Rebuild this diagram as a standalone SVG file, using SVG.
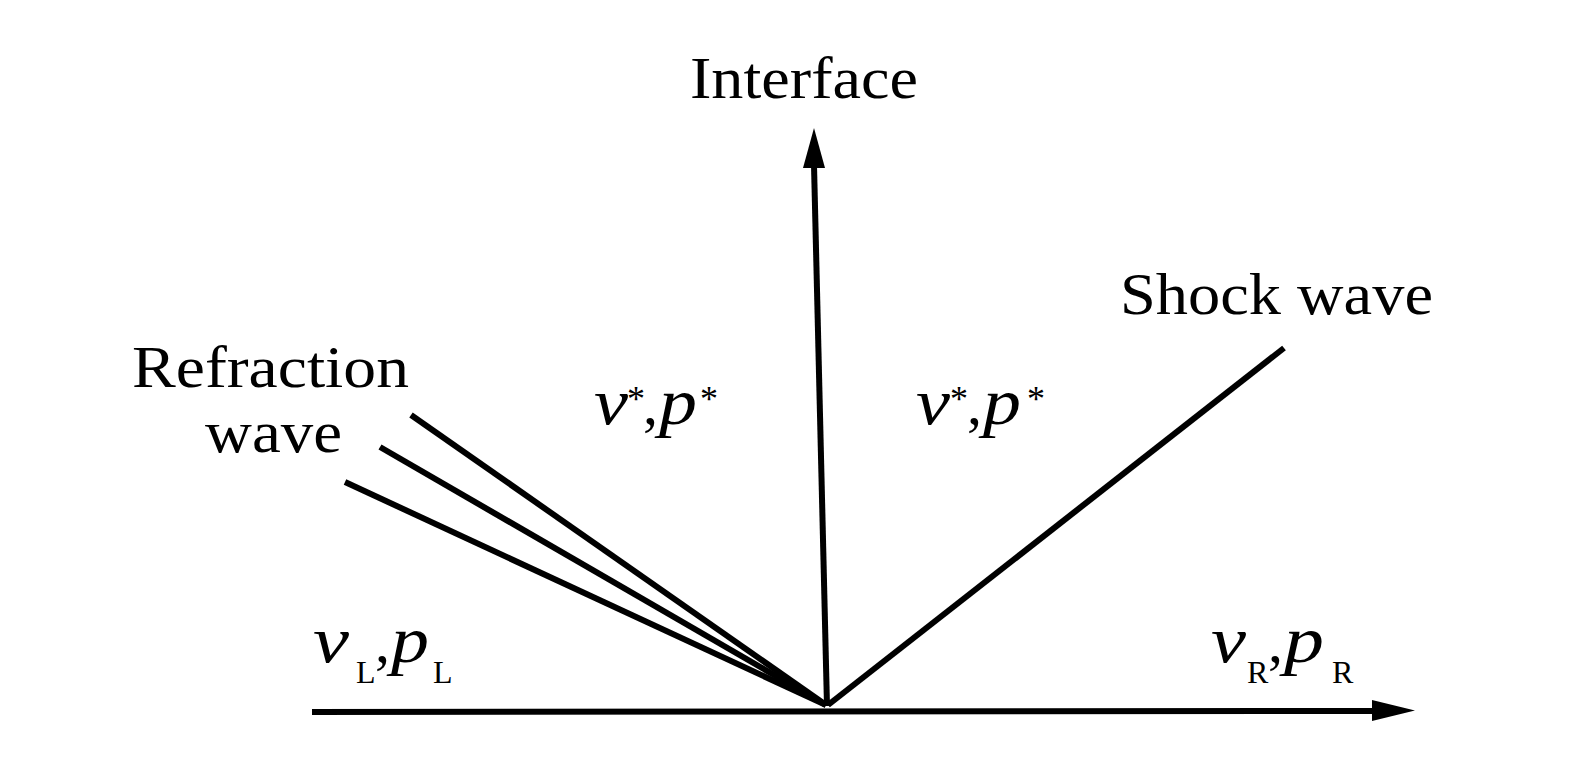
<svg xmlns="http://www.w3.org/2000/svg" width="1573" height="780" viewBox="0 0 1573 780">
<style>
.ln{stroke:#000;stroke-width:6;fill:none;stroke-linecap:butt}
.lbl{font-family:"Liberation Serif","Times New Roman",serif;font-size:60px;fill:#000}
.m{font-family:"Liberation Serif","Times New Roman",serif;font-style:italic;font-size:66px;fill:#000}
.c{font-family:"Liberation Serif","Times New Roman",serif;font-size:60px;fill:#000}
.sub{font-family:"Liberation Serif","Times New Roman",serif;font-size:32px;fill:#000}
.sup{font-family:"Liberation Serif","Times New Roman",serif;font-size:36px;fill:#000}
</style>
<rect width="1573" height="780" fill="#fff"/>
<g id="connectors">
<line class="ln" x1="312" y1="712" x2="1380" y2="711"/>
<polygon points="1372,700 1415,710.5 1372,721" fill="#000"/>
<line class="ln" x1="827" y1="706" x2="814" y2="165"/>
<polygon points="803,168 814,128 825,168" fill="#000"/>
<line class="ln" x1="826" y1="705" x2="411" y2="415"/>
<line class="ln" x1="826" y1="705" x2="380" y2="447"/>
<line class="ln" x1="826" y1="705" x2="345" y2="482"/>
<line class="ln" x1="828" y1="705" x2="1284" y2="348"/>
</g>
<g id="interface-label"><text class="lbl" x="690" y="98" textLength="228" lengthAdjust="spacingAndGlyphs">Interface</text></g>
<g id="shock-label"><text class="lbl" x="1120" y="314" textLength="313" lengthAdjust="spacingAndGlyphs">Shock wave</text></g>
<g id="refraction-label">
<text class="lbl" x="132" y="387" textLength="277" lengthAdjust="spacingAndGlyphs">Refraction</text>
<text class="lbl" x="205" y="452" textLength="137" lengthAdjust="spacingAndGlyphs">wave</text>
</g>
<g id="state-star-left">
<text class="m" x="594" y="424" textLength="34" lengthAdjust="spacingAndGlyphs">v</text>
<text class="sup" x="627" y="411">*</text>
<text class="c" x="643" y="424">,</text>
<text class="m" x="659" y="424" textLength="38" lengthAdjust="spacingAndGlyphs">p</text>
<text class="sup" x="700" y="411">*</text>
</g>
<g id="state-star-right">
<text class="m" x="916" y="424" textLength="34" lengthAdjust="spacingAndGlyphs">v</text>
<text class="sup" x="950" y="411">*</text>
<text class="c" x="967" y="424">,</text>
<text class="m" x="983" y="424" textLength="38" lengthAdjust="spacingAndGlyphs">p</text>
<text class="sup" x="1027" y="411">*</text>
</g>
<g id="state-left">
<text class="m" x="313" y="662" textLength="36" lengthAdjust="spacingAndGlyphs">v</text>
<text class="sub" x="356" y="683">L</text>
<text class="c" x="375" y="662">,</text>
<text class="m" x="391" y="662" textLength="38" lengthAdjust="spacingAndGlyphs">p</text>
<text class="sub" x="433" y="683">L</text>
</g>
<g id="state-right">
<text class="m" x="1211" y="662" textLength="35" lengthAdjust="spacingAndGlyphs">v</text>
<text class="sub" x="1247" y="683">R</text>
<text class="c" x="1268" y="662">,</text>
<text class="m" x="1284" y="662" textLength="40" lengthAdjust="spacingAndGlyphs">p</text>
<text class="sub" x="1332" y="683">R</text>
</g>
</svg>
